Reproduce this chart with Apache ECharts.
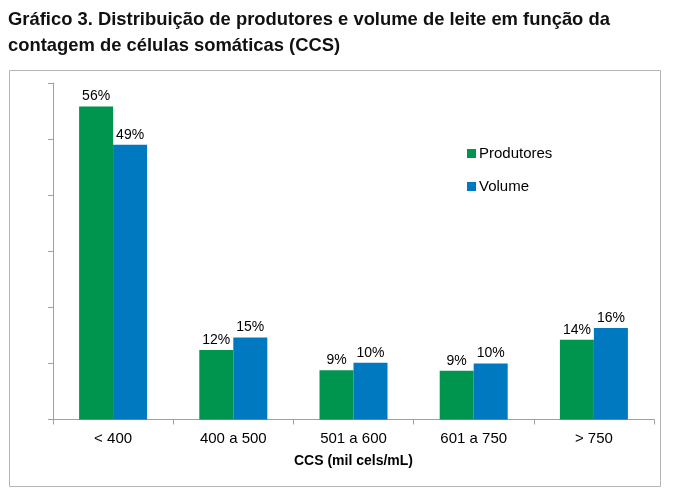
<!DOCTYPE html>
<html><head><meta charset="utf-8">
<script src="https://cdn.jsdelivr.net/npm/echarts@6/dist/echarts.min.js"></script>
<style>html,body{margin:0;padding:0;background:#fff}#c{width:673px;height:499px}</style>
</head><body><div id="c"></div>
<script>
const categories = ['< 400', '400 a 500', '501 a 600', '601 a 750', '> 750'];
const produtores = [55.8, 12.4, 8.8, 8.7, 14.2];
const volume = [49.0, 14.6, 10.1, 10.0, 16.3];
const seriesNames = ['Produtores', 'Volume'];
const titleLines = ['Gráfico 3. Distribuição de produtores e volume de leite em função da', 'contagem de células somáticas (CCS)'];
const axisName = 'CCS (mil cels/mL)';

const chart = echarts.init(document.getElementById('c'), null, {renderer: 'canvas'});
const lbl = {show: true, position: 'top', distance: 3, color: '#000', fontSize: 14, fontFamily: 'Liberation Sans',
  formatter: p => Math.round(p.value) + '%'};
chart.setOption({
  animation: false,
  graphic: [
    {type: 'rect', shape: {x: 9.5, y: 70.5, width: 651, height: 416}, style: {fill: 'none', stroke: '#b5b5b5', lineWidth: 1}},
    {type: 'text', left: 8, top: 7, style: {text: titleLines.join('\n'), font: 'bold 18.4px "Liberation Sans"', lineHeight: 26, fill: '#111'}}
  ],
  legend: {
    data: seriesNames, orient: 'vertical', left: 462, top: 141, itemWidth: 9, itemHeight: 9, itemGap: 18,
    icon: 'rect', textStyle: {fontSize: 15, fontFamily: 'Liberation Sans', color: '#000', padding: [0, 0, 0, -2]}
  },
  grid: {left: 53, right: 19, top: 83, bottom: 79.5},
  xAxis: {
    type: 'category', data: categories,
    axisLine: {lineStyle: {color: '#a0a0a0'}},
    axisTick: {show: true, length: 5, lineStyle: {color: '#a0a0a0'}},
    axisLabel: {color: '#000', fontSize: 15, fontFamily: 'Liberation Sans', margin: 12},
    name: axisName, nameLocation: 'middle', nameGap: 35,
    nameTextStyle: {fontWeight: 'bold', fontSize: 14, fontFamily: 'Liberation Sans', color: '#000'}
  },
  yAxis: {
    type: 'value', min: 0, max: 60, interval: 10,
    axisLine: {show: true, lineStyle: {color: '#a0a0a0'}},
    axisTick: {show: true, length: 5, lineStyle: {color: '#a0a0a0'}},
    axisLabel: {show: false},
    splitLine: {show: false}
  },
  series: [
    {name: seriesNames[0], type: 'bar', data: produtores, barWidth: 34, barGap: '0%', itemStyle: {color: '#00954F'}, label: lbl},
    {name: seriesNames[1], type: 'bar', data: volume, barWidth: 34, barGap: '0%', itemStyle: {color: '#0079C1'}, label: lbl}
  ]
});
</script></body></html>
